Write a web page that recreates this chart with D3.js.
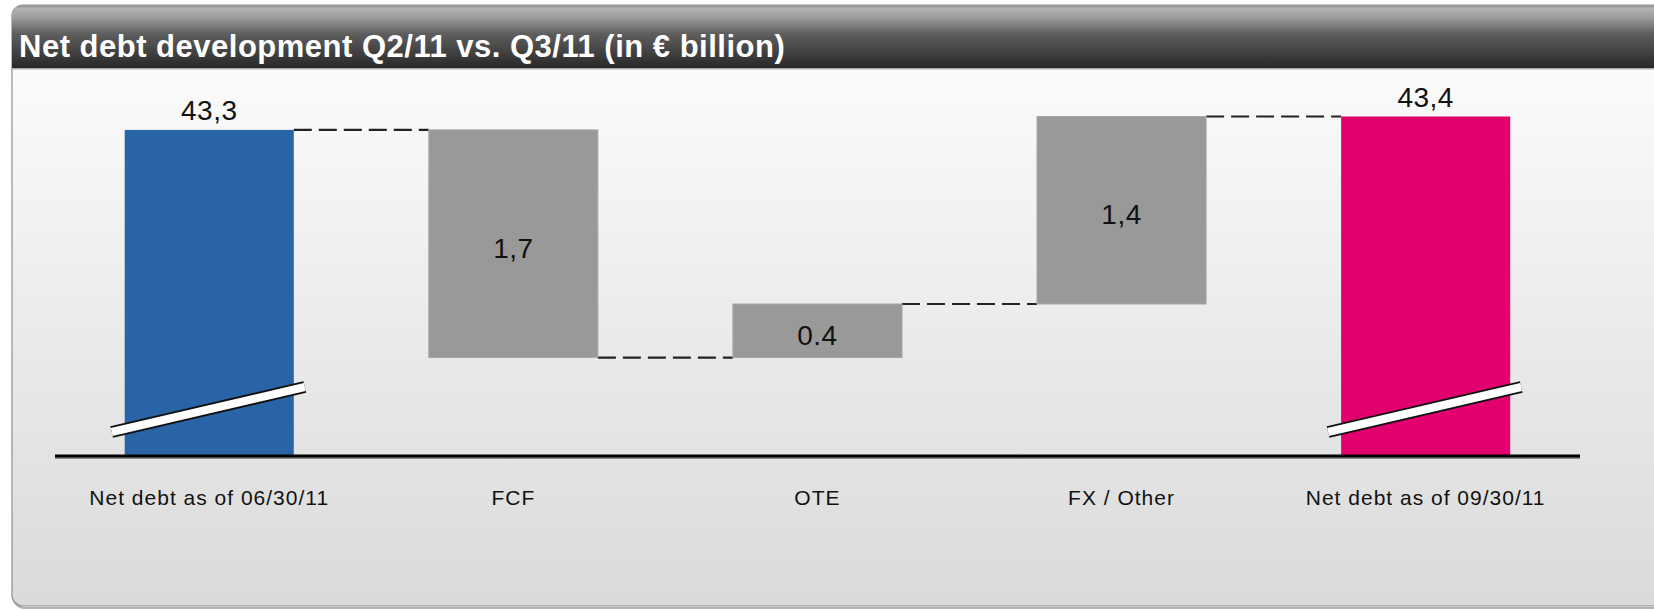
<!DOCTYPE html>
<html>
<head>
<meta charset="utf-8">
<script src="https://cdn.jsdelivr.net/npm/d3@7"></script>
<style>
  html, body { margin: 0; padding: 0; background: #ffffff; }
  svg { display: block; }
  text { font-family: "Liberation Sans", Arial, sans-serif; }
</style>
</head>
<body>
<svg id="chart" width="1654" height="610"></svg>
<script>
// ---- data ----
const title = "Net debt development Q2/11 vs. Q3/11 (in € billion)";
const categories = ["Net debt as of 06/30/11", "FCF", "OTE", "FX / Other", "Net debt as of 09/30/11"];
const values = [43.3, -1.7, 0.4, 1.4, 43.4];
const kinds = ["total", "delta", "delta", "delta", "total"];
const valueLabels = ["43,3", "1,7", "0.4", "1,4", "43,4"];
const barColors = ["#2864a6", "#999999", "#999999", "#999999", "#e2006f"];
const axisFloor = 40.865;   // value at the (broken) baseline
const axisTop = 43.4;

// ---- build waterfall ----
let running = 0;
const bars = categories.map((c, i) => {
  let y0, y1;
  if (kinds[i] === "total") { y0 = axisFloor; y1 = values[i]; running = values[i]; }
  else { y0 = running; y1 = running + values[i]; running = y1; }
  return { cat: c, y0, y1, level: running, kind: kinds[i], label: valueLabels[i], color: barColors[i] };
});

const svg = d3.select("#chart");
const defs = svg.append("defs");

// gradients
const bodyGrad = defs.append("linearGradient").attr("id", "bodyGrad")
  .attr("x1", 0).attr("y1", 0).attr("x2", 0).attr("y2", 1);
bodyGrad.append("stop").attr("offset", "0%").attr("stop-color", "#ffffff");
bodyGrad.append("stop").attr("offset", "100%").attr("stop-color", "#dadada");

const headGrad = defs.append("linearGradient").attr("id", "headGrad")
  .attr("x1", 0).attr("y1", 0).attr("x2", 0).attr("y2", 1);
[["0%", "#bdbdbd"], ["20%", "#9a9a9a"], ["45%", "#5e5e5e"], ["75%", "#404040"], ["100%", "#262626"]]
  .forEach(([o, c]) => headGrad.append("stop").attr("offset", o).attr("stop-color", c));

defs.append("clipPath").attr("id", "panelClip")
  .append("rect").attr("x", 12).attr("y", 5).attr("width", 1720).attr("height", 601).attr("rx", 11);

// panel
svg.append("rect").attr("x", 13.5).attr("y", 7).attr("width", 1720).attr("height", 601).attr("rx", 11)
  .attr("fill", "none").attr("stroke", "#b5b5b5").attr("stroke-width", 2);
svg.append("rect").attr("x", 12).attr("y", 5).attr("width", 1720).attr("height", 601).attr("rx", 11)
  .attr("fill", "url(#bodyGrad)").attr("stroke", "#8f8f8f").attr("stroke-width", 1.2);

const head = svg.append("g").attr("clip-path", "url(#panelClip)");
head.append("rect").attr("x", 12).attr("y", 5).attr("width", 1720).attr("height", 64)
  .attr("fill", "url(#headGrad)");
head.append("rect").attr("x", 12).attr("y", 5).attr("width", 1720).attr("height", 2.5).attr("fill", "#9a9a9a");
head.append("rect").attr("x", 12).attr("y", 68).attr("width", 1720).attr("height", 1.5).attr("fill", "#a8a8a8");

svg.append("text").attr("x", 19).attr("y", 57)
  .attr("fill", "#ffffff").attr("font-size", 31).attr("font-weight", "bold")
  .attr("letter-spacing", 0.5)
  .text(title);

// ---- scales ----
const x = d3.scaleBand().domain(categories).range([124.7, 1510.2]).paddingInner(0.444).paddingOuter(0);
const y = d3.scaleLinear().domain([axisFloor, axisTop]).range([456, 116.5]);
const bw = x.bandwidth();

const g = svg.append("g");

// connectors
const conn = bars.slice(0, -1).map((b, i) => ({ x1: x(b.cat) + bw, x2: x(bars[i + 1].cat), v: b.level }));
g.selectAll("line.conn").data(conn).join("line").attr("class", "conn")
  .attr("x1", d => d.x1).attr("x2", d => d.x2)
  .attr("y1", d => y(d.v)).attr("y2", d => y(d.v))
  .attr("stroke", "#222").attr("stroke-width", 2.2).attr("stroke-dasharray", "18,7");

// bars
g.selectAll("rect.bar").data(bars).join("rect").attr("class", "bar")
  .attr("x", d => x(d.cat)).attr("width", bw)
  .attr("y", d => y(Math.max(d.y0, d.y1)))
  .attr("height", d => Math.abs(y(d.y0) - y(d.y1)))
  .attr("fill", d => d.color)
  .attr("stroke", d => d.kind === "delta" ? "#a8a8a8" : "none").attr("stroke-width", 1);

// break marks on totals
const breaks = bars.filter(d => d.kind === "total");
const brk = d => `M${x(d.cat) - 13},${y(axisFloor) - 24} L${x(d.cat) + bw + 11},${y(axisFloor) - 69}`;
g.selectAll("path.brkO").data(breaks).join("path").attr("class", "brkO")
  .attr("d", brk).attr("stroke", "#111").attr("stroke-width", 12).attr("fill", "none");
g.selectAll("path.brkI").data(breaks).join("path").attr("class", "brkI")
  .attr("d", brk).attr("stroke", "#ffffff").attr("stroke-width", 8).attr("fill", "none");

// axis baseline
svg.append("line").attr("x1", 55).attr("x2", 1580).attr("y1", y(axisFloor) + 1).attr("y2", y(axisFloor) + 1)
  .attr("stroke", "#8a8a8a").attr("stroke-width", 4);
svg.append("line").attr("x1", 55).attr("x2", 1580).attr("y1", y(axisFloor)).attr("y2", y(axisFloor))
  .attr("stroke", "#000").attr("stroke-width", 3);

// value labels
g.selectAll("text.val").data(bars).join("text").attr("class", "val")
  .attr("x", d => x(d.cat) + bw / 2)
  .attr("y", d => d.kind === "total" ? y(d.y1) - 10 : (y(d.y0) + y(d.y1)) / 2)
  .attr("dy", d => d.kind === "total" ? 0 : "0.5em")
  .attr("text-anchor", "middle").attr("font-size", 28).attr("fill", "#111")
  .attr("letter-spacing", 0.5)
  .text(d => d.label);

// category labels
g.selectAll("text.cat").data(categories).join("text").attr("class", "cat")
  .attr("x", d => x(d) + bw / 2).attr("y", 505)
  .attr("text-anchor", "middle").attr("font-size", 21).attr("fill", "#111")
  .attr("letter-spacing", 1)
  .text(d => d);
</script>
</body>
</html>
